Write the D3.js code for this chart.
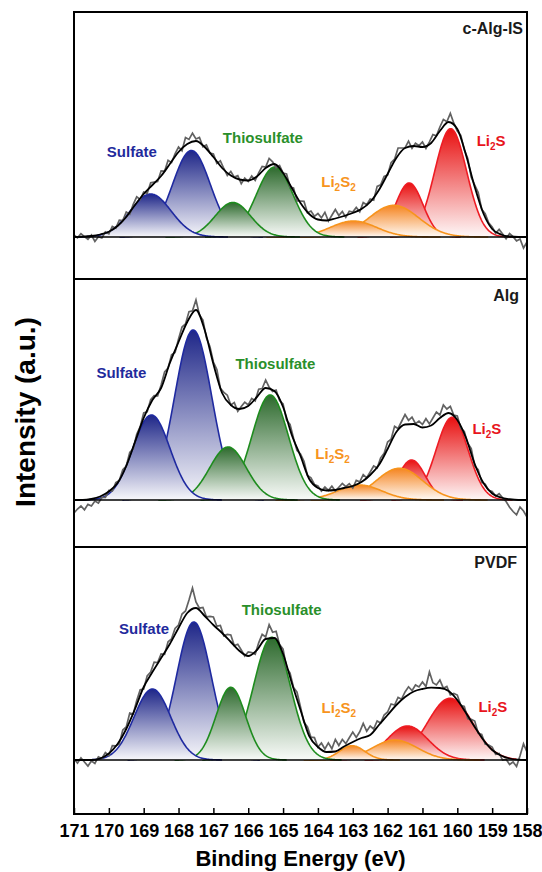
<!DOCTYPE html>
<html>
<head>
<meta charset="utf-8">
<script src="https://cdn.jsdelivr.net/npm/d3@7"></script>
<style>
  body { margin: 0; background: #fff; }
  svg { display: block; font-family: "Liberation Sans", Arial, sans-serif; font-weight: bold; }
</style>
</head>
<body>
<svg id="chart" width="542" height="872"></svg>
<script>
// sample names, top to bottom
var panelNames = ["c-Alg-IS", "Alg", "PVDF"]

// S 2p doublets: sulfate, thiosulfate, Li2S2, Li2S
var speciesNames = ["Sulfate", "Thiosulfate", "Li2S2", "Li2S"]
var peakSpecies = [0, 0, 1, 1, 2, 2, 3, 3]

// fitted components (binding energy eV, height a.u., fwhm eV)
var peakCenters = [
    [168.80, 167.63, 166.44, 165.24, 162.98, 161.82, 161.38, 160.19],
    [168.78, 167.58, 166.58, 165.37, 162.80, 161.66, 161.31, 160.15],
    [168.75, 167.56, 166.50, 165.32, 163.02, 161.79, 161.43, 160.21]
]
var peakHeights = [
    [43, 86.5, 34.5, 70, 16, 31.7, 54, 108.3],
    [85, 170, 53, 105, 15, 31.7, 40, 82.7],
    [71, 138, 72.7, 122.7, 14.3, 20, 34, 61.7]
]
var peakFwhm = [
    [1.38, 1.28, 1.2, 1.24, 1.55, 1.68, 0.92, 1.08],
    [1.26, 1.26, 1.24, 1.24, 1.5, 1.58, 0.92, 1.08],
    [1.24, 1.18, 1.0, 1.24, 0.86, 1.52, 1.38, 1.52]
]

// fit envelope, every 0.25 eV from 171 down to 158
var envelopeValues = [
    [0, 0.3, 1, 2.5, 5.2, 11, 20, 32, 43, 52, 61, 73, 85, 93, 96, 90, 80, 69, 61.5, 57.5, 56.5, 60.5, 69, 73, 64, 49, 34, 23, 17.5, 16.5, 18.5, 21, 24, 28, 35, 47, 63, 79, 89, 91, 90, 94, 106, 115, 108, 82, 50, 23.5, 8, 2.5, 0.5, 0, 0],
    [0, 0, 1, 3.5, 8.5, 17, 34, 58, 82, 100, 112, 137, 158, 178, 190, 170, 136, 107, 95, 91, 94, 103, 112, 109, 93, 65, 44, 21, 12, 9.5, 10, 12, 14, 18, 25, 35, 51, 68, 75.5, 76, 72.5, 74.5, 82, 87, 80, 62, 36, 17, 6.5, 2.5, 0.8, 0, 0],
    [0, 0, 0, 1.5, 6.5, 16, 31, 51, 73, 88, 102, 116, 132, 147, 152, 144, 135, 127, 118, 109, 104, 110, 121, 122, 106, 77, 50, 24, 13, 8, 8.5, 13.5, 18, 22, 25, 35, 45, 55, 63, 68.5, 71, 72.3, 72, 69, 60, 47, 33, 20, 10, 4.5, 1.5, 0.3, 0]
]

// measured spectrum minus envelope, every 0.1 eV from 171 down to 158
var rawResiduals = [
    [2, -1, 3, 0, -3, 1, -6, -2, -4, 1,
     -2, 3, -1, 4, 0, 5, -2, 3, 6, -1,
     2, -3, 4, 1, -2, 5, 0, 6, -1, 3,
     5, -2, 8, 4, 9, 2, 6, -1, 4, 0,
     3, -2, 5, 1, -3, 4, 0, 3, -4, 2,
     -1, 3, -3, 2, 5, 1, 8, 3, -2, 4,
     0, 5, -2, 3, -4, 2, 6, -1, 4, 1,
     6, 2, 8, -1, 4, 9, 2, 5, -2, 3,
     1, 4, -2, 5, 0, 3, -3, 6, 2, 4,
     -1, 5, 2, 8, 4, 0, 6, -2, 3, 1,
     5, -3, 2, 6, 0, 4, 8, 2, 10, 3,
     -2, 4, 0, 3, -3, 2, 5, -1, 3, 0,
     2, -2, 4, 1, -3, 3, 0, -4, -2, -11, -5],
    [-13, -9, -6, -10, -5, -7, -3, -6, -2, -4,
     1, -3, 2, -1, 3, 0, 4, -2, 3, 1,
     5, -1, 4, 2, -3, 3, 6, 0, 4, -2,
     3, 7, 2, 8, 4, 10, 3, 6, -1, 4,
     2, 6, -1, 3, 5, 0, 4, -3, 2, 5,
     1, 4, -2, 6, 3, 8, 2, -1, 4, 0,
     3, -2, 5, 1, -3, 2, 4, -1, 3, 0,
     2, -2, 3, 0, 4, -1, 2, 5, 1, 3,
     -2, 4, 1, 6, 0, 3, 5, -1, 4, 2,
     7, 3, 9, 2, 6, 10, 4, 7, 1, 5,
     3, 8, 2, 6, 9, 3, 11, 5, 8, 2,
     4, -1, 3, 0, 5, -2, 2, -3, 1, -1,
     2, -1, 3, 0, -3, -8, -12, -15, -7, -11, -17],
    [1, -3, 2, -2, -6, -1, -4, 2, -1, 3,
     -2, 4, 0, -3, 5, 2, 8, -1, 4, 6,
     -2, 5, 3, 7, 1, 4, -2, 5, 2, 6,
     3, 8, 5, 12, 22, 6, 3, 7, 1, 5,
     8, 2, 6, -1, 4, 7, 0, 5, 2, -2,
     4, 1, -3, 5, 9, 2, 14, 6, 10, 3,
     5, -2, 4, 1, 7, 3, -2, 4, 1, 5,
     0, 6, 2, 9, 3, 12, 4, 8, 2, 6,
     10, 3, 7, 14, 5, 9, 2, 6, 0, 4,
     3, 7, 2, 6, 1, 5, 8, 2, 6, 3,
     7, 2, 16, 5, 3, 8, 1, 4, -2, 3,
     5, 0, 4, -3, 2, 6, -1, 3, -2, 1,
     3, -2, 1, -4, -2, -6, -3, -7, 4, 16, 8]
]

var tickValues = [171, 170, 169, 168, 167, 166, 165, 164, 163, 162, 161, 160, 159, 158]

// where the species names sit (energy, intensity)
var labelSpots = [
    [[169.34, 85], [165.58, 99], [163.41, 55], [159.03, 96]],
    [[169.64, 127], [165.22, 136.5], [163.58, 46], [159.15, 70.7]],
    [[168.99, 130.7], [165.04, 150], [163.40, 52.3], [158.98, 53.3]]
]

// components further down this list are painted on top
var drawOrder = [7, 6, 5, 4, 3, 1, 2, 0]

var dimensions = {
    width: 542,
    height: 872,
    left: 74,
    right: 527,
    panelTops: [12, 279, 547],
    panelBottoms: [279, 547, 814],
    baselines: [237, 500, 760]
}

var strokeColors = ["#1f2aa0", "#1e8c1e", "#f7941d", "#ee1c24"]
var fillColors = ["#1e2688", "#2d6a2d", "#f5841f", "#e81010"]
var textColors = ["#1f2a9c", "#2a8f2a", "#f7941d", "#e8141c"]

var svg = d3.select("#chart")

var xScale = d3.scaleLinear()
    .domain([171, 158])
    .range([dimensions.left, dimensions.right])

var fitEnergies = d3.range(0, envelopeValues[0].length).map(i => 171 - i * 0.25)
var rawEnergies = d3.range(0, rawResiduals[0].length).map(i => 171 - i * 0.1)

// gradients, one per species (opaque so later peaks hide earlier ones)
var defs = svg.append("defs")
fillColors.forEach(function (c, i) {
    var g = defs.append("linearGradient")
        .attr("id", "grad" + i)
        .attr("x1", 0).attr("y1", 0).attr("x2", 0).attr("y2", 1)
    g.append("stop").attr("offset", "0%").attr("stop-color", c)
    g.append("stop").attr("offset", "100%").attr("stop-color", d3.interpolateRgb(c, "#ffffff")(0.97))
})

function gauss(c, h, w) {
    return function (e) { return h * Math.exp(-4 * Math.LN2 * (e - c) * (e - c) / (w * w)) }
}

panelNames.forEach(function (name, p) {
    var base = dimensions.baselines[p]
    var yScale = d3.scaleLinear()
        .domain([0, 100])
        .range([base, base - 100])

    var panel = svg.append("g")

    // components
    drawOrder.forEach(function (k) {
        var c = peakCenters[p][k]
        var w = peakFwhm[p][k]
        var f = gauss(c, peakHeights[p][k], w)
        var sigma = w / 2.3548
        var pts = d3.range(Math.min(c + 3.8 * sigma, 170.9), Math.max(c - 3.8 * sigma, 158.3), -0.02)
        var s = peakSpecies[k]

        panel.append("path")
            .datum(pts)
            .attr("d", d3.area()
                .x(d => xScale(d))
                .y0(yScale(0))
                .y1(d => yScale(f(d))))
            .attr("fill", "url(#grad" + s + ")")

        panel.append("path")
            .datum(pts)
            .attr("d", d3.line()
                .x(d => xScale(d))
                .y(d => yScale(f(d))))
            .attr("fill", "none")
            .attr("stroke", strokeColors[s])
            .attr("stroke-width", 1.6)
    })

    // measured spectrum
    var envAt = d3.scaleLinear().domain(fitEnergies).range(envelopeValues[p])
    panel.append("path")
        .datum(rawEnergies)
        .attr("d", d3.line()
            .x(d => xScale(d))
            .y((d, i) => yScale(envAt(d) + rawResiduals[p][i])))
        .attr("fill", "none")
        .attr("stroke", "#626262")
        .attr("stroke-width", 1.7)

    // baseline
    panel.append("line")
        .attr("x1", xScale(171)).attr("x2", xScale(158))
        .attr("y1", yScale(0)).attr("y2", yScale(0))
        .attr("stroke", "black")
        .attr("stroke-width", 1.5)

    // fit envelope
    panel.append("path")
        .datum(fitEnergies)
        .attr("d", d3.line()
            .curve(d3.curveMonotoneX)
            .x(d => xScale(d))
            .y((d, i) => yScale(envelopeValues[p][i])))
        .attr("fill", "none")
        .attr("stroke", "black")
        .attr("stroke-width", 1.8)

    // species labels
    labelSpots[p].forEach(function (spot, s) {
        var t = panel.append("text")
            .attr("x", xScale(spot[0]))
            .attr("y", yScale(spot[1]) + 5)
            .attr("text-anchor", "middle")
            .attr("font-size", 15)
            .attr("fill", textColors[s])
        var nm = speciesNames[s]
        if (nm.indexOf("Li2") == 0) {
            t.append("tspan").text("Li")
            t.append("tspan").attr("font-size", 10).attr("dy", 4).text("2")
            t.append("tspan").attr("dy", -4).text("S")
            if (nm == "Li2S2") t.append("tspan").attr("font-size", 10).attr("dy", 4).text("2")
        } else {
            t.text(nm)
        }
    })

    // frame
    panel.append("rect")
        .attr("x", dimensions.left)
        .attr("y", dimensions.panelTops[p])
        .attr("width", dimensions.right - dimensions.left)
        .attr("height", dimensions.panelBottoms[p] - dimensions.panelTops[p])
        .attr("fill", "none")
        .attr("stroke", "black")
        .attr("stroke-width", 2)

    panel.append("text")
        .attr("x", [523, 519, 517][p])
        .attr("y", [34, 301, 568][p])
        .attr("text-anchor", "end")
        .attr("font-size", 16)
        .attr("fill", "#1a1a1a")
        .text(name)
})

// bottom axis
var axis = svg.append("g")
    .attr("transform", "translate(0," + dimensions.panelBottoms[2] + ")")
    .call(d3.axisBottom(xScale)
        .tickValues(tickValues)
        .tickSizeInner(-6)
        .tickSizeOuter(0)
        .tickPadding(10)
        .tickFormat(d3.format("d")))
axis.select(".domain").remove()
axis.selectAll("line").attr("stroke", "black").attr("stroke-width", 1.5)
axis.selectAll("text")
    .attr("fill", "black")
    .style("font-size", "18px")
    .style("font-weight", "bold")
    .style("font-family", "'Liberation Sans', Arial, sans-serif")

//axis titles
svg.append("text")
    .attr("x", 300.5)
    .attr("y", 866)
    .attr("text-anchor", "middle")
    .attr("font-size", 22)
    .text("Binding Energy (eV)")

svg.append("text")
    .attr("transform", "translate(35,412) rotate(-90)")
    .attr("text-anchor", "middle")
    .attr("font-size", 28)
    .text("Intensity (a.u.)")
</script>
</body>
</html>
